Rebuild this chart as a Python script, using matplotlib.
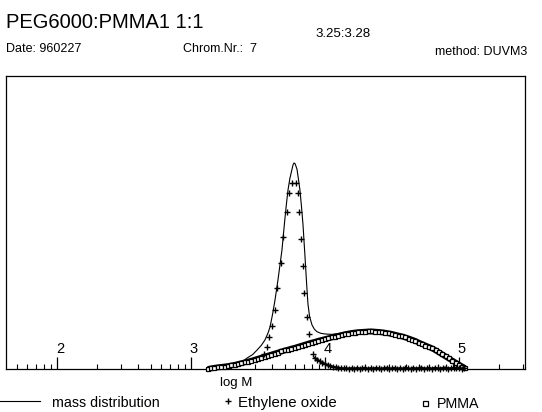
import matplotlib
matplotlib.use("Agg")
import numpy as np
import matplotlib.pyplot as plt
from matplotlib.lines import Line2D
from matplotlib.transforms import blended_transform_factory

plt.rcParams['font.family'] = ['Liberation Sans', 'DejaVu Sans']

# mass distribution (sum curve), log M vs. signal
md_logm = [3.125, 3.2, 3.3, 3.366, 3.418, 3.46, 3.493, 3.525, 3.552, 3.575,
           3.590, 3.610, 3.627, 3.649, 3.665, 3.679, 3.690, 3.701, 3.712, 3.724,
           3.738, 3.754, 3.762, 3.769, 3.777, 3.791, 3.800, 3.813, 3.825, 3.836,
           3.845, 3.851, 3.860, 3.866, 3.873, 3.885, 3.903, 3.920, 3.940, 3.970,
           4.000, 4.05, 4.1, 4.2, 4.3, 4.4, 4.5, 4.6, 4.7, 4.8, 4.9, 5.0, 5.045]
md_val = [0.0, 0.8, 1.7, 2.6, 5.3, 7.0, 9.2, 11.5, 14.1, 17.5,
          20.4, 27.0, 33.5, 43.2, 51.0, 57.8, 65.5, 73.0, 80.0, 86.9,
          92.5, 97.0, 99.2, 100.0, 99.6, 97.0, 93.0, 86.9, 78.5, 70.0,
          60.5, 54.4, 44.5, 38.3, 31.5, 25.5, 21.4, 19.4, 18.1, 17.3,
          17.0, 16.8, 17.2, 18.2, 18.7, 18.6, 17.6, 15.9, 13.4, 10.6, 6.7, 2.6, 0.8]

# ethylene oxide fraction: peak points ...
eo_logm = [3.545, 3.567, 3.582, 3.604, 3.627, 3.642, 3.672, 3.687, 3.716, 3.731,
           3.754, 3.784, 3.799, 3.806, 3.821, 3.836, 3.843, 3.866, 3.881, 3.910]
eo_val = [7.3, 10.7, 15.5, 20.9, 28.6, 39.3, 51.5, 64.1, 76.2, 85.4,
          90.3, 90.3, 85.4, 76.2, 63.1, 50.0, 36.9, 25.2, 17.0, 7.3]
# ... and its high-mass tail
eo_tail_logm = [3.925, 3.94, 3.96, 3.98, 4.00, 4.02, 4.04, 4.06, 4.08, 4.10,
                4.12, 4.14, 4.16, 4.18, 4.20, 4.22, 4.24, 4.26, 4.28, 4.30,
                4.32, 4.34, 4.36, 4.38, 4.40, 4.42, 4.44, 4.46, 4.48, 4.50,
                4.52, 4.54, 4.56, 4.58, 4.60, 4.62, 4.64, 4.66, 4.68, 4.70,
                4.72, 4.74, 4.76, 4.78, 4.80, 4.82, 4.84, 4.86, 4.88, 4.90,
                4.92, 4.94, 4.96, 4.98, 5.00, 5.02, 5.04]
eo_tail_val = [5.3, 4.6, 3.8, 3.1, 2.5, 2.0, 1.5, 1.1, 0.8, 0.6,
               0.4, 0.3, 0.3, 0.2, 0.4, 0.1, 0.5, 0.2, 0.3, 0.6,
               0.1, 0.4, 0.2, 0.5, 0.3, 0.1, 0.4, 0.6, 0.2, 0.3,
               0.5, 0.1, 0.4, 0.2, 0.6, 0.3, 0.1, 0.5, 0.2, 0.4,
               0.7, 0.2, 0.3, 0.5, 0.1, 0.6, 0.3, 0.2, 0.5, 0.7,
               0.2, 0.4, 0.6, 0.3, 0.5, 0.2, 0.4]

# PMMA fraction
pmma_logm = [3.125, 3.15, 3.175, 3.2, 3.225, 3.25, 3.275, 3.3, 3.325, 3.35,
             3.375, 3.4, 3.425, 3.45, 3.475, 3.5, 3.525, 3.55, 3.575, 3.6,
             3.625, 3.65, 3.675, 3.7, 3.725, 3.75, 3.775, 3.8, 3.825, 3.85,
             3.875, 3.9, 3.925, 3.95, 3.975, 4.0, 4.025, 4.05, 4.075, 4.1,
             4.125, 4.15, 4.175, 4.2, 4.225, 4.25, 4.275, 4.3, 4.325, 4.35,
             4.375, 4.4, 4.425, 4.45, 4.475, 4.5, 4.525, 4.55, 4.575, 4.6,
             4.625, 4.65, 4.675, 4.7, 4.725, 4.75, 4.775, 4.8, 4.825, 4.85,
             4.875, 4.9, 4.925, 4.95, 4.975, 5.0, 5.025, 5.045]
pmma_val = [0.0, 0.3, 0.6, 0.8, 1.0, 1.2, 1.4, 1.7, 2.0, 2.4,
            2.8, 3.2, 3.6, 4.0, 4.5, 5.0, 5.5, 6.0, 6.5, 7.0,
            7.5, 8.0, 8.5, 9.0, 9.4, 9.9, 10.3, 10.8, 11.3, 11.8,
            12.3, 12.8, 13.2, 13.7, 14.1, 14.5, 14.9, 15.3, 15.7, 16.1,
            16.5, 16.9, 17.2, 17.5, 17.7, 17.9, 18.0, 18.1, 18.2, 18.2,
            18.1, 18.0, 17.8, 17.6, 17.3, 17.0, 16.6, 16.2, 15.8, 15.3,
            14.8, 14.2, 13.6, 12.8, 12.1, 11.4, 10.7, 10.0, 9.1, 8.1,
            7.1, 6.1, 5.1, 4.1, 3.1, 2.1, 1.2, 0.5]

major_ticks = [2, 3, 4, 5]

fig = plt.figure(figsize=(5.42, 4.12), dpi=100)
W, H = 542.0, 412.0
ax = fig.add_axes([6 / W, 1 - 369 / H, 519 / W, 293 / H])

pmma_x = 10 ** np.array(pmma_logm)
tail_x = 10 ** np.array(eo_tail_logm)

ax.plot(10 ** np.array(md_logm), md_val, color='black', lw=0.8, zorder=2)
# PMMA points are so dense on the plotter that they merge into a thick band
ax.plot(pmma_x, pmma_val, color='black', lw=4.2, solid_capstyle='butt',
        zorder=3, clip_on=False)
ax.plot(pmma_x, pmma_val, ls='none', marker='s', ms=2.8,
        mfc='white', mec='black', mew=0.9, zorder=3, clip_on=False)
ax.plot(10 ** np.array(eo_logm), eo_val, ls='none', marker='+', ms=4.5,
        mec='black', mew=1.0, zorder=4)
ax.plot(tail_x, eo_tail_val, color='black', lw=1.6, zorder=4, clip_on=False)
ax.plot(tail_x, eo_tail_val, ls='none', marker='+', ms=4.5,
        mec='black', mew=1.0, zorder=4, clip_on=False)

ax.set_xscale('log')
ax.set_xlim(10 ** 1.619, 10 ** 5.493)
ax.set_ylim(0, 142.2)
ax.set_yticks([])
ax.set_xticks([10.0 ** d for d in major_ticks])
ax.set_xticklabels([])
ax.xaxis.set_minor_locator(matplotlib.ticker.LogLocator(base=10, subs=np.arange(2, 10)))
ax.xaxis.set_minor_formatter(matplotlib.ticker.NullFormatter())
ax.tick_params(axis='x', which='major', direction='in', length=8.6, width=0.9)
ax.tick_params(axis='x', which='minor', direction='in', length=3.6, width=0.8)
for s in ax.spines.values():
    s.set_linewidth(0.9)

# decade labels sit inside the frame, just above each major tick
trans = blended_transform_factory(ax.transData, ax.transAxes)
for d in major_ticks:
    ax.text(10.0 ** d * 1.05, 0.045, str(d), transform=trans, ha='center',
            va='bottom', fontsize=10.5)

fig.text(236 / W, 1 - 383 / H, 'log M', ha='center', va='center', fontsize=9.5)

# header
fig.text(6 / W, 1 - 28 / H, 'PEG6000:PMMA1 1:1', ha='left', va='baseline', fontsize=14.5)
fig.text(315 / W, 1 - 37 / H, '3.25:3.28', ha='left', va='baseline', fontsize=9.5)
fig.text(6 / W, 1 - 52 / H, 'Date: 960227', ha='left', va='baseline', fontsize=9)
fig.text(183 / W, 1 - 52 / H, 'Chrom.Nr.:  7', ha='left', va='baseline', fontsize=9)
fig.text(527 / W, 1 - 55 / H, 'method: DUVM3', ha='right', va='baseline', fontsize=9)

# legend row
fig.add_artist(Line2D([0 / W, 40 / W], [1 - 401 / H] * 2, color='black', lw=0.8))
fig.text(52 / W, 1 - 403 / H, 'mass distribution', ha='left', va='center', fontsize=10.3)
fig.add_artist(Line2D([228 / W], [1 - 401 / H], ls='none', marker='+', ms=4.5,
                      mec='black', mew=1.0))
fig.text(238 / W, 1 - 403 / H, 'Ethylene oxide', ha='left', va='center', fontsize=10.8)
fig.add_artist(Line2D([425 / W], [1 - 403 / H], ls='none', marker='s', ms=3.6,
                      mfc='white', mec='black', mew=0.9))
fig.text(437 / W, 1 - 404 / H, 'PMMA', ha='left', va='center', fontsize=10.3)

fig.savefig('out.png', dpi=100)
